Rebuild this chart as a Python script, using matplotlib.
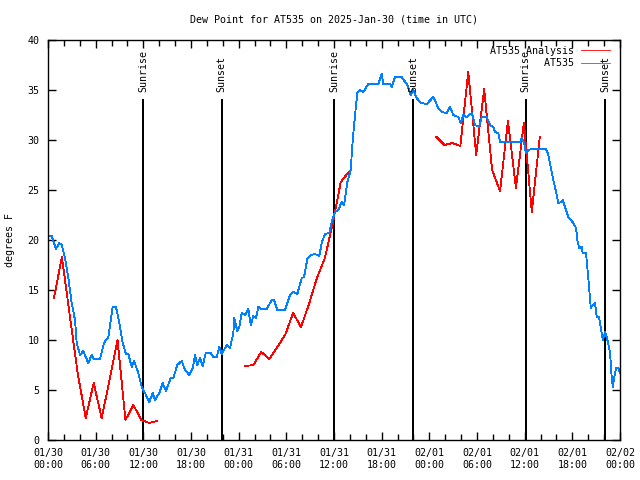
import numpy as np
import matplotlib
matplotlib.use("Agg")
import matplotlib.pyplot as plt
from matplotlib.ticker import FixedLocator, MultipleLocator

# hours since 2025-01-30 00:00 UTC
obs_hours = [0.0, 0.47, 1.0, 1.42, 1.72, 2.14, 2.56, 2.98, 3.40, 3.61, 4.03, 4.44, 5.07, 5.50,
             5.79, 6.55, 7.05, 7.59, 8.14, 8.56, 8.98, 9.40, 9.82, 10.11, 10.54, 10.83, 11.37,
             11.80, 12.21, 12.75, 13.18, 13.47, 14.01, 14.44, 14.85, 15.45, 15.77, 16.28, 16.83,
             17.25, 17.79, 18.22, 18.50, 18.79, 19.13, 19.47, 19.85, 20.48, 20.81, 21.24, 21.56,
             21.87, 22.50, 22.91, 23.33, 23.45, 23.83, 24.08, 24.38, 24.80, 25.21, 25.52, 25.84,
             26.18, 26.47, 26.90, 27.53, 28.16, 28.45, 28.86, 29.83, 30.46, 30.88, 31.38, 31.94,
             32.23, 32.64, 33.07, 33.61, 34.15, 34.45, 34.87, 35.41, 35.71, 36.13, 36.54, 36.97,
             37.26, 37.68, 38.10, 38.36, 38.65, 38.94, 39.27, 39.69, 40.32, 41.58, 42.01, 42.21,
             43.05, 43.26, 43.68, 44.52, 45.23, 45.66, 45.99, 46.41, 46.92, 47.67, 48.50, 49.13,
             49.56, 50.19, 50.60, 51.02, 51.65, 51.95, 52.28, 52.71, 53.34, 53.75, 54.29, 54.60,
             55.22, 55.64, 56.06, 56.27, 56.68, 56.90, 59.42, 59.63, 59.92, 60.17, 60.46, 60.89,
             62.69, 62.98, 63.28, 63.61, 63.95, 64.24, 64.66, 64.79, 65.08, 65.50, 66.13, 66.47,
             66.63, 66.85, 67.18, 67.31, 67.72, 67.89, 68.14, 68.32, 68.57, 68.86, 69.07, 69.36,
             69.58, 69.83, 70.12, 70.33, 70.74, 70.96, 71.09, 71.26, 71.51, 71.79, 72.0]
obs_dewpt = [20.4, 20.4, 19.1, 19.7, 19.5, 18.2, 16.2, 13.7, 12.0, 9.7, 8.5, 8.9, 7.7, 8.5,
             8.1, 8.1, 9.7, 10.3, 13.3, 13.3, 11.7, 9.7, 8.6, 8.6, 7.3, 7.9, 6.7,
             5.3, 4.7, 3.8, 4.7, 4.0, 4.7, 5.7, 4.9, 6.2, 6.2, 7.5, 7.9,
             7.0, 6.5, 7.2, 8.5, 7.5, 8.2, 7.4, 8.7, 8.7, 8.3, 8.3, 9.3,
             8.6, 9.5, 9.2, 10.7, 12.2, 10.9, 11.3, 12.7, 12.5, 13.1, 11.5, 12.4,
             12.2, 13.3, 13.1, 13.1, 14.0, 14.0, 13.0, 13.0, 14.5, 14.8, 14.6, 16.2,
             16.3, 18.1, 18.5, 18.6, 18.4, 19.7, 20.6, 20.7, 21.8, 22.8, 23.0, 23.8,
             23.5, 25.8, 27.0, 30.0, 32.5, 34.7, 35.0, 34.8, 35.6, 35.6, 36.6, 35.6,
             35.6, 35.3, 36.3, 36.3, 35.5, 34.5, 35.0, 34.2, 33.7, 33.6, 34.3, 33.2,
             32.8, 32.7, 33.3, 32.5, 32.3, 31.7, 32.5, 32.3, 32.7, 31.5, 31.3, 32.3,
             32.3, 31.5, 31.3, 30.8, 30.7, 29.8, 29.8, 30.2, 29.7, 28.7, 29.0, 29.1,
             29.1, 28.5, 27.3, 26.0, 24.8, 23.7, 23.8, 24.0, 23.3, 22.3, 21.7, 21.2,
             20.0, 19.2, 19.3, 18.7, 18.7, 17.2, 15.0, 13.2, 13.5, 13.7, 12.3, 12.3,
             11.2, 10.0, 10.8, 10.3, 8.8, 6.2, 5.3, 6.2, 7.2, 7.2, 6.7]

# analysis series, NaN marks the gaps
ana_hours = [0.75, 1.75, 2.75, 3.75, 4.75, 5.75, 6.75, 7.75, 8.75, 9.75, 10.75, 11.75, 12.75, 13.75,
             19.0,
             24.85, 25.85, 26.85, 27.85, 28.85, 29.85, 30.85, 31.85, 32.85, 33.85, 34.85, 35.85,
             36.85, 37.85,
             43.0,
             48.9, 49.9, 50.9, 51.9, 52.9, 53.9, 54.9, 55.9, 56.9, 57.9, 58.9, 59.9, 60.9, 61.9]
ana_dewpt = [14.2, 18.3, 12.4, 6.6, 2.2, 5.7, 2.2, 6.0, 10.0, 2.0, 3.5, 2.0, 1.7, 1.9,
             np.nan,
             7.4, 7.5, 8.8, 8.1, 9.3, 10.5, 12.7, 11.3, 13.6, 16.2, 18.2, 21.7,
             25.8, 26.8,
             np.nan,
             30.3, 29.5, 29.7, 29.4, 36.8, 28.5, 35.1, 27.0, 24.9, 31.9, 25.2, 31.7, 22.8, 30.3]

sun_hours = [12.0, 21.85, 36.05, 46.0, 60.15, 70.15]
sun_labels = ["Sunrise", "Sunset", "Sunrise", "Sunset", "Sunrise", "Sunset"]

tick_hours = [0, 6, 12, 18, 24, 30, 36, 42, 48, 54, 60, 66, 72]
tick_labels = ["01/30\n00:00", "01/30\n06:00", "01/30\n12:00", "01/30\n18:00",
               "01/31\n00:00", "01/31\n06:00", "01/31\n12:00", "01/31\n18:00",
               "02/01\n00:00", "02/01\n06:00", "02/01\n12:00", "02/01\n18:00",
               "02/02\n00:00"]

plt.rcParams["font.family"] = "DejaVu Sans Mono"
plt.rcParams["font.size"] = 7.2

fig = plt.figure(figsize=(6.4, 4.8), dpi=100)
ax = fig.add_axes([48 / 640, 40 / 480, 572 / 640, 400 / 480])

for h, lab in zip(sun_hours, sun_labels):
    ax.plot([h, h], [0, 34], color="black", lw=1.1, antialiased=False)
    ax.text(h, 34.8, lab, rotation=90, ha="center", va="bottom")

ax.plot(ana_hours, ana_dewpt, color="#ff0000", lw=0.6, antialiased=False,
        label="AT535 Analysis")
ax.plot(obs_hours, obs_dewpt, color="#0080ff", lw=0.6, antialiased=False,
        label="         AT535")

ax.set_xlim(0, 72)
ax.set_ylim(0, 40)
ax.xaxis.set_major_locator(FixedLocator(tick_hours))
ax.set_xticklabels(tick_labels)
ax.xaxis.set_minor_locator(MultipleLocator(2))
ax.yaxis.set_major_locator(MultipleLocator(5))
ax.tick_params(which="both", direction="in", top=True, right=True, width=1)
ax.tick_params(which="major", length=6, pad=6)
ax.tick_params(which="minor", length=4)
for s in ax.spines.values():
    s.set_linewidth(1)

fig.text(10 / 640, 0.5, "degrees F", rotation=90, ha="center", va="center")
fig.text(334 / 640, 1 - 20 / 480, "Dew Point for AT535 on 2025-Jan-30 (time in UTC)",
         ha="center", va="center")

ax.legend(loc="upper right", bbox_to_anchor=(0.9825, 0.986), frameon=False,
          markerfirst=False, borderpad=0, borderaxespad=0, handlelength=2.9,
          handletextpad=0.7, labelspacing=0.25)

fig.savefig("out.png", dpi=100)
